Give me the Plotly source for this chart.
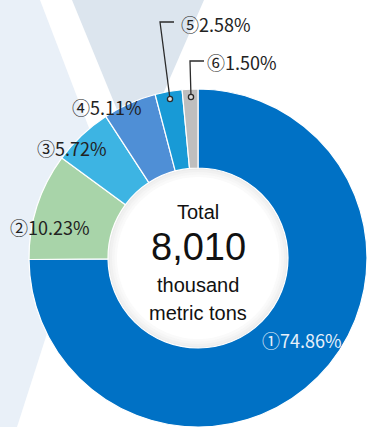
import plotly.graph_objects as go

W, H = 369, 427

# ---- data ----
markers = ["①", "②", "③", "④", "⑤", "⑥"]
shares = [74.86, 10.23, 5.72, 5.11, 2.58, 1.50]
colors = ["#0071C5", "#A8D4A9", "#3DB4E3", "#4F8FD6", "#189AD6", "#BEBEBE"]
total_title = "Total"
total_value = "8,010"
total_unit = ["thousand", "metric tons"]

# ---- geometry (pixels) ----
CX, CY, R = 198, 258, 169
HOLE_R = 90


def px(x):
    return x / W


def py(y):
    return 1 - y / H


fig = go.Figure()
fig.add_trace(go.Pie(
    labels=markers,
    values=shares,
    sort=False,
    direction="clockwise",
    rotation=0,
    hole=HOLE_R / R,
    marker=dict(colors=colors, line=dict(color="white", width=1.2)),
    textinfo="none",
    hoverinfo="label+percent",
    showlegend=False,
    domain=dict(x=[px(CX - R), px(CX + R)], y=[py(CY + R), py(CY - R)]),
))

shapes = []
# background areas
shapes.append(dict(type="path", xref="paper", yref="paper", layer="below",
                   path=f"M {px(0)},{py(0)} L {px(40)},{py(0)} L {px(102)},{py(162)} L {px(17)},{py(427)} L {px(0)},{py(427)} Z",
                   fillcolor="#E9F0F8", line=dict(width=0)))
shapes.append(dict(type="path", xref="paper", yref="paper", layer="below",
                   path=f"M {px(72)},{py(0)} L {px(204)},{py(0)} L {px(136)},{py(156)} Z",
                   fillcolor="#DCE5EE", line=dict(width=0)))
# hole with soft shadow
ring_cols = ["#EBEBEB", "#F1F1F1", "#F6F6F6", "#FAFAFA", "#FFFFFF"]
for i, c in enumerate(ring_cols):
    r = HOLE_R + 1 - i * 2.5
    shapes.append(dict(type="circle", xref="paper", yref="paper", layer="below",
                       x0=px(CX - r), x1=px(CX + r), y0=py(CY + r), y1=py(CY - r),
                       fillcolor=c, line=dict(width=0)))

# leader lines
lc = "#2B2B2B"
for pts in ([(174, 22), (160, 22), (170, 99)], [(204, 61), (190, 61), (191, 97)]):
    path = "M " + " L ".join(f"{px(x)},{py(y)}" for x, y in pts)
    shapes.append(dict(type="path", xref="paper", yref="paper", layer="above",
                       path=path, line=dict(color=lc, width=1.3)))
    x, y = pts[-1]
    shapes.append(dict(type="circle", xref="paper", yref="paper", layer="above",
                       x0=px(x - 2.6), x1=px(x + 2.6), y0=py(y + 2.6), y1=py(y - 2.6),
                       fillcolor="#DDDDDD", line=dict(color=lc, width=1.3)))

annotations = []
label_font = "Noto Sans CJK JP, Noto Sans, sans-serif"
label_pos = [(302, 340), (50, 227), (72, 148), (107, 107), (216, 24), (242, 62)]
for i, (m, v) in enumerate(zip(markers, shares)):
    x, y = label_pos[i]
    col = "#E6F0FA" if i == 0 else "#222222"
    annotations.append(dict(x=px(x), y=py(y), xref="paper", yref="paper",
                            text=f"{m}{v:.2f}%", showarrow=False,
                            xanchor="center", yanchor="middle",
                            font=dict(family=label_font, size=18, color=col)))

center_font = "Liberation Sans, Arial, sans-serif"
center_lines = [(total_title, 20, 212), (total_value, 38, 247),
                (total_unit[0], 20, 285), (total_unit[1], 20, 313)]
for t, s, y in center_lines:
    annotations.append(dict(x=px(CX), y=py(y), xref="paper", yref="paper",
                            text=t, showarrow=False, xanchor="center", yanchor="middle",
                            font=dict(family=center_font, size=s, color="#111111")))

fig.update_layout(
    width=W, height=H,
    margin=dict(l=0, r=0, t=0, b=0),
    paper_bgcolor="white",
    plot_bgcolor="white",
    shapes=shapes,
    annotations=annotations,
)

fig.write_html("out.html", config={"displayModeBar": False})
